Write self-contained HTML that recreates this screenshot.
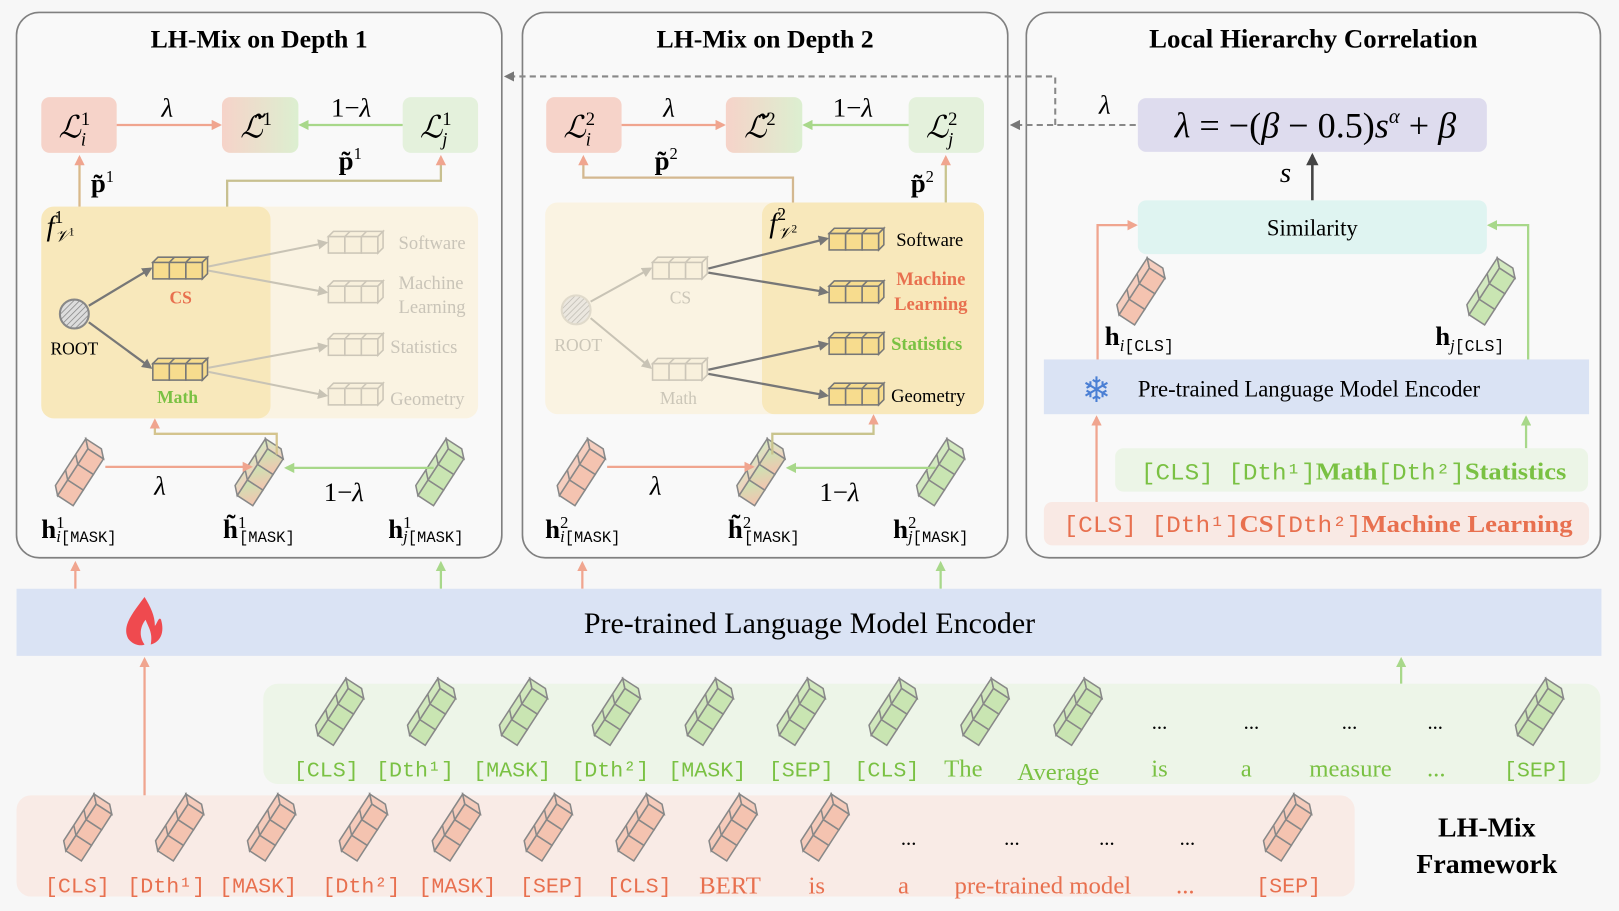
<!DOCTYPE html>
<html><head><meta charset="utf-8"><style>
html,body{margin:0;padding:0;background:#f7f7f7;}
svg{display:block;}
.s{font-family:"Liberation Serif",serif;}
.m{font-family:"Liberation Mono",monospace;}
</style></head><body>
<svg width="1619" height="911" viewBox="0 0 1568 882" preserveAspectRatio="none" xmlns="http://www.w3.org/2000/svg">
<defs>
<g id="tk" transform="rotate(-57) translate(-27,-9)">
<rect x="0" y="0" width="18" height="18"/><rect x="18" y="0" width="18" height="18"/><rect x="36" y="0" width="18" height="18"/>
<path d="M0 0 L7 -7 L61 -7 L54 0 Z" fill-opacity=".8"/>
<path d="M54 0 L61 -7 L61 11 L54 18 Z" fill-opacity=".8"/>
<line x1="18" y1="0" x2="25" y2="-7"/><line x1="36" y1="0" x2="43" y2="-7"/>
</g>
<g id="hb">
<rect x="0" y="0" width="16" height="16"/><rect x="16" y="0" width="16" height="16"/><rect x="32" y="0" width="16" height="16"/>
<path d="M0 0 L5 -5 L53 -5 L48 0 Z"/><path d="M48 0 L53 -5 L53 11 L48 16 Z"/>
<line x1="16" y1="0" x2="21" y2="-5"/><line x1="32" y1="0" x2="37" y2="-5"/>
</g>
<marker id="aS" markerWidth="10" markerHeight="10" refX="8" refY="5" orient="auto" markerUnits="userSpaceOnUse"><path d="M0 0 L10 5 L0 10 Z" fill="#f0a58f"/></marker>
<marker id="aG" markerWidth="10" markerHeight="10" refX="8" refY="5" orient="auto" markerUnits="userSpaceOnUse"><path d="M0 0 L10 5 L0 10 Z" fill="#a8d88a"/></marker>
<marker id="aD" markerWidth="10" markerHeight="10" refX="8" refY="5" orient="auto" markerUnits="userSpaceOnUse"><path d="M0 0 L10 5 L0 10 Z" fill="#777"/></marker>
<marker id="aF" markerWidth="10" markerHeight="10" refX="8" refY="5" orient="auto" markerUnits="userSpaceOnUse"><path d="M0 0 L10 5 L0 10 Z" fill="#c8c3b5"/></marker>
<marker id="aK" markerWidth="12" markerHeight="12" refX="10" refY="6" orient="auto" markerUnits="userSpaceOnUse"><path d="M0 0 L12 6 L0 12 Z" fill="#444"/></marker>
<linearGradient id="lg" x1="0" x2="1"><stop offset="0" stop-color="#f6d3c9"/><stop offset="1" stop-color="#dcefd0"/></linearGradient>
<linearGradient id="tg" x1="0" x2="1" y1="1" y2="0"><stop offset="0" stop-color="#f4c3b0"/><stop offset="1" stop-color="#c9e5b2"/></linearGradient>
<pattern id="hatch" width="4" height="4" patternUnits="userSpaceOnUse" patternTransform="rotate(45)"><rect width="4" height="4" fill="#ddd"/><line x1="0" y1="0" x2="0" y2="4" stroke="#888" stroke-width="1.5"/></pattern>
</defs>
<rect width="1568" height="882" fill="#f7f7f7"/>

<rect x="16" y="12" width="470" height="528" rx="22" fill="#f9f9f9" stroke="#808080" stroke-width="1.6"/>
<rect x="506" y="12" width="470" height="528" rx="22" fill="#f9f9f9" stroke="#808080" stroke-width="1.6"/>
<rect x="994" y="12" width="556" height="528" rx="22" fill="#f9f9f9" stroke="#808080" stroke-width="1.6"/>
<g class="s" font-weight="bold" font-size="25" text-anchor="middle">
<text x="251" y="46">LH-Mix on Depth 1</text><text x="741" y="46">LH-Mix on Depth 2</text><text x="1272" y="46" font-size="26">Local Hierarchy Correlation</text>
</g>

<!-- Box1 -->
<rect x="40" y="200" width="423" height="205" rx="12" fill="#faf3e2"/>
<rect x="40" y="200" width="222" height="205" rx="12" fill="#f8e8bb"/>
<rect x="40" y="94" width="73" height="54" rx="8" fill="#f6d3c9"/>
<rect x="215" y="94" width="74" height="54" rx="8" fill="url(#lg)"/>
<rect x="390" y="94" width="73" height="54" rx="8" fill="#e4f1dc"/>
<g class="s" font-style="italic" font-size="30" text-anchor="middle">
<text x="72" y="133">ℒ<tspan font-size="18" dy="-12" font-style="normal">1</tspan><tspan font-size="18" dx="-9" dy="20">i</tspan></text>
<text x="248" y="133">ℒ̃<tspan font-size="18" dy="-12" font-style="normal">1</tspan></text>
<text x="422" y="133">ℒ<tspan font-size="18" dy="-12" font-style="normal">1</tspan><tspan font-size="18" dx="-9" dy="20">j</tspan></text>
</g>
<line x1="113" y1="121" x2="213" y2="121" stroke="#f0a58f" stroke-width="2.2" marker-end="url(#aS)"/>
<line x1="390" y1="121" x2="291" y2="121" stroke="#a8d88a" stroke-width="2.2" marker-end="url(#aG)"/>
<g class="s" font-size="26" text-anchor="middle"><text x="162" y="113" font-style="italic">λ</text><text x="340" y="113">1−<tspan font-style="italic">λ</tspan></text></g>
<line x1="77" y1="200" x2="77" y2="152" stroke="#d9b98a" stroke-width="2.2" marker-end="url(#aS)"/>
<polyline points="220,200 220,175 427,175 427,152" fill="none" stroke="#c8c090" stroke-width="2.2" marker-end="url(#aS)"/>
<g class="s" font-size="26" font-weight="bold"><text x="88" y="186">p̃<tspan font-size="16" dy="-10" font-weight="normal">1</tspan></text><text x="328" y="164">p̃<tspan font-size="16" dy="-10" font-weight="normal">1</tspan></text></g>
<text x="45" y="228" class="s" font-size="28" font-style="italic">f<tspan font-size="17" dy="-12" font-style="normal">1</tspan><tspan font-size="16" dx="-8" dy="18">𝒱</tspan><tspan font-size="11" dy="-6" font-style="normal">1</tspan></text>
<circle cx="72" cy="304" r="14" fill="url(#hatch)" stroke="#888" stroke-width="2"/>
<text x="72" y="343" class="s" font-size="17" text-anchor="middle">ROOT</text>
<line x1="86" y1="296" x2="146" y2="260" stroke="#777" stroke-width="2.2" marker-end="url(#aD)"/>
<line x1="86" y1="312" x2="146" y2="356" stroke="#777" stroke-width="2.2" marker-end="url(#aD)"/>
<use href="#hb" x="148" y="254" fill="#f7dc8e" stroke="#777" stroke-width="1.5"/>
<use href="#hb" x="148" y="352" fill="#f7dc8e" stroke="#777" stroke-width="1.5"/>
<text x="175" y="294" class="s" font-size="17" font-weight="bold" fill="#e8704f" text-anchor="middle">CS</text>
<text x="172" y="390" class="s" font-size="17" font-weight="bold" fill="#7ac143" text-anchor="middle">Math</text>
<g stroke="#c8c3b5" stroke-width="2">
<line x1="202" y1="258" x2="316" y2="235" marker-end="url(#aF)"/><line x1="202" y1="262" x2="316" y2="283" marker-end="url(#aF)"/>
<line x1="202" y1="356" x2="316" y2="335" marker-end="url(#aF)"/><line x1="202" y1="360" x2="316" y2="383" marker-end="url(#aF)"/>
</g>
<g fill="#f8f0dc" stroke="#ccc6b8" stroke-width="1.5"><use href="#hb" x="318" y="229"/><use href="#hb" x="318" y="277"/><use href="#hb" x="318" y="328"/><use href="#hb" x="318" y="376"/></g>
<g class="s" font-size="18" fill="#c9c4b8"><text x="386" y="241">Software</text><text x="386" y="280">Machine</text><text x="386" y="303">Learning</text><text x="378" y="342">Statistics</text><text x="378" y="392">Geometry</text></g>
<use href="#tk" transform="translate(78,462)" fill="#f4c3b0" stroke="#888" stroke-width="1.5"/>
<use href="#tk" transform="translate(252,462)" fill="url(#tg)" stroke="#888" stroke-width="1.5"/>
<use href="#tk" transform="translate(427,462)" fill="#c9e5b2" stroke="#888" stroke-width="1.5"/>
<line x1="102" y1="452" x2="243" y2="452" stroke="#f0a58f" stroke-width="2.2" marker-end="url(#aS)"/>
<line x1="420" y1="453" x2="277" y2="453" stroke="#a8d88a" stroke-width="2.2" marker-end="url(#aG)"/>
<polyline points="268,440 268,420 150,420 150,407" fill="none" stroke="#d4c48e" stroke-width="2.2" marker-end="url(#aS)"/>
<g class="s" font-size="26" text-anchor="middle"><text x="155" y="479" font-style="italic">λ</text><text x="333" y="485">1−<tspan font-style="italic">λ</tspan></text></g>
<g class="s" font-size="26" font-weight="bold">
<text x="40" y="521">h<tspan font-size="16" dy="-10" font-weight="normal">1</tspan><tspan font-size="16" dx="-8" dy="14" font-style="italic" font-weight="normal">i</tspan><tspan class="m" font-size="15" font-weight="normal">[MASK]</tspan></text>
<text x="216" y="521">h̃<tspan font-size="16" dy="-10" font-weight="normal">1</tspan><tspan class="m" font-size="15" dx="-7" dy="14" font-weight="normal">[MASK]</tspan></text>
<text x="376" y="521">h<tspan font-size="16" dy="-10" font-weight="normal">1</tspan><tspan font-size="16" dx="-8" dy="14" font-style="italic" font-weight="normal">j</tspan><tspan class="m" font-size="15" font-weight="normal">[MASK]</tspan></text>
</g>

<!-- Box2 -->
<rect x="528" y="196" width="425" height="205" rx="12" fill="#faf3e2"/>
<rect x="738" y="196" width="215" height="205" rx="12" fill="#f8e8bb"/>
<rect x="529" y="94" width="73" height="54" rx="8" fill="#f6d3c9"/>
<rect x="703" y="94" width="74" height="54" rx="8" fill="url(#lg)"/>
<rect x="880" y="94" width="73" height="54" rx="8" fill="#e4f1dc"/>
<g class="s" font-style="italic" font-size="30" text-anchor="middle">
<text x="561" y="133">ℒ<tspan font-size="18" dy="-12" font-style="normal">2</tspan><tspan font-size="18" dx="-9" dy="20">i</tspan></text>
<text x="736" y="133">ℒ̃<tspan font-size="18" dy="-12" font-style="normal">2</tspan></text>
<text x="912" y="133">ℒ<tspan font-size="18" dy="-12" font-style="normal">2</tspan><tspan font-size="18" dx="-9" dy="20">j</tspan></text>
</g>
<line x1="602" y1="121" x2="701" y2="121" stroke="#f0a58f" stroke-width="2.2" marker-end="url(#aS)"/>
<line x1="880" y1="121" x2="779" y2="121" stroke="#a8d88a" stroke-width="2.2" marker-end="url(#aG)"/>
<g class="s" font-size="26" text-anchor="middle"><text x="648" y="113" font-style="italic">λ</text><text x="826" y="113">1−<tspan font-style="italic">λ</tspan></text></g>
<polyline points="768,196 768,172 565,172 565,152" fill="none" stroke="#d4b890" stroke-width="2.2" marker-end="url(#aS)"/>
<line x1="916" y1="196" x2="916" y2="152" stroke="#c9c48e" stroke-width="2.2" marker-end="url(#aS)"/>
<g class="s" font-size="26" font-weight="bold"><text x="634" y="164">p̃<tspan font-size="16" dy="-10" font-weight="normal">2</tspan></text><text x="882" y="186">p̃<tspan font-size="16" dy="-10" font-weight="normal">2</tspan></text></g>
<text x="745" y="225" class="s" font-size="28" font-style="italic">f<tspan font-size="17" dy="-12" font-style="normal">2</tspan><tspan font-size="16" dx="-8" dy="18">𝒱</tspan><tspan font-size="11" dy="-6" font-style="normal">2</tspan></text>
<circle cx="558" cy="300" r="14" fill="url(#hatch)" stroke="#c8c3b5" stroke-width="2" opacity=".5"/>
<text x="560" y="340" class="s" font-size="17" text-anchor="middle" fill="#cbc6b8">ROOT</text>
<line x1="572" y1="292" x2="630" y2="260" stroke="#c8c3b5" stroke-width="2" marker-end="url(#aF)"/>
<line x1="572" y1="308" x2="630" y2="356" stroke="#c8c3b5" stroke-width="2" marker-end="url(#aF)"/>
<g fill="#f8f0dc" stroke="#ccc6b8" stroke-width="1.5"><use href="#hb" x="632" y="254"/><use href="#hb" x="632" y="352"/></g>
<text x="659" y="294" class="s" font-size="17" text-anchor="middle" fill="#cbc6b8">CS</text>
<text x="657" y="391" class="s" font-size="17" text-anchor="middle" fill="#cbc6b8">Math</text>
<g stroke="#777" stroke-width="2.2">
<line x1="686" y1="260" x2="801" y2="231" marker-end="url(#aD)"/><line x1="686" y1="264" x2="801" y2="283" marker-end="url(#aD)"/>
<line x1="686" y1="358" x2="801" y2="333" marker-end="url(#aD)"/><line x1="686" y1="362" x2="801" y2="383" marker-end="url(#aD)"/>
</g>
<g fill="#f7dc8e" stroke="#777" stroke-width="1.5"><use href="#hb" x="803" y="226"/><use href="#hb" x="803" y="277"/><use href="#hb" x="803" y="327"/><use href="#hb" x="803" y="376"/></g>
<g class="s" font-size="18"><text x="868" y="238">Software</text><text x="868" y="276" font-weight="bold" fill="#e8704f">Machine</text><text x="866" y="300" font-weight="bold" fill="#e8704f">Learning</text><text x="863" y="339" font-weight="bold" fill="#7ac143">Statistics</text><text x="863" y="389">Geometry</text></g>
<use href="#tk" transform="translate(564,462)" fill="#f4c3b0" stroke="#888" stroke-width="1.5"/>
<use href="#tk" transform="translate(738,462)" fill="url(#tg)" stroke="#888" stroke-width="1.5"/>
<use href="#tk" transform="translate(912,462)" fill="#c9e5b2" stroke="#888" stroke-width="1.5"/>
<line x1="588" y1="452" x2="729" y2="452" stroke="#f0a58f" stroke-width="2.2" marker-end="url(#aS)"/>
<line x1="906" y1="453" x2="763" y2="453" stroke="#a8d88a" stroke-width="2.2" marker-end="url(#aG)"/>
<polyline points="748,440 748,420 846,420 846,403" fill="none" stroke="#c9c48e" stroke-width="2.2" marker-end="url(#aS)"/>
<g class="s" font-size="26" text-anchor="middle"><text x="635" y="479" font-style="italic">λ</text><text x="813" y="485">1−<tspan font-style="italic">λ</tspan></text></g>
<g class="s" font-size="26" font-weight="bold">
<text x="528" y="521">h<tspan font-size="16" dy="-10" font-weight="normal">2</tspan><tspan font-size="16" dx="-8" dy="14" font-style="italic" font-weight="normal">i</tspan><tspan class="m" font-size="15" font-weight="normal">[MASK]</tspan></text>
<text x="705" y="521">h̃<tspan font-size="16" dy="-10" font-weight="normal">2</tspan><tspan class="m" font-size="15" dx="-7" dy="14" font-weight="normal">[MASK]</tspan></text>
<text x="865" y="521">h<tspan font-size="16" dy="-10" font-weight="normal">2</tspan><tspan font-size="16" dx="-8" dy="14" font-style="italic" font-weight="normal">j</tspan><tspan class="m" font-size="15" font-weight="normal">[MASK]</tspan></text>
</g>

<g stroke="#888" stroke-width="2" stroke-dasharray="6,4" fill="none">
<line x1="1100" y1="121" x2="980" y2="121" marker-end="url(#aD)"/>
<polyline points="1022,121 1022,74 490,74" marker-end="url(#aD)"/>
</g>
<text x="1070" y="110" class="s" font-size="26" font-style="italic" text-anchor="middle">λ</text>

<!-- Box3 -->
<rect x="1102" y="95" width="338" height="52" rx="8" fill="#dedcee"/>
<text x="1274" y="133" class="s" font-size="35" text-anchor="middle"><tspan font-style="italic">λ</tspan> = −(<tspan font-style="italic">β</tspan> − 0.5)<tspan font-style="italic">s</tspan><tspan font-size="20" dy="-14" font-style="italic">α</tspan><tspan dy="14"> + </tspan><tspan font-style="italic">β</tspan></text>
<line x1="1271" y1="194" x2="1271" y2="150" stroke="#444" stroke-width="2.5" marker-end="url(#aK)"/>
<text x="1245" y="176" class="s" font-size="28" font-style="italic" text-anchor="middle">s</text>
<rect x="1102" y="194" width="338" height="52" rx="8" fill="#dff4f1"/>
<text x="1271" y="228" class="s" font-size="22" text-anchor="middle">Similarity</text>
<polyline points="1063,348 1063,218 1100,218" fill="none" stroke="#f0a58f" stroke-width="2.2" marker-end="url(#aS)"/>
<polyline points="1480,348 1480,218 1442,218" fill="none" stroke="#a8d88a" stroke-width="2.2" marker-end="url(#aG)"/>
<use href="#tk" transform="translate(1106,287)" fill="#f4c3b0" stroke="#888" stroke-width="1.5"/>
<use href="#tk" transform="translate(1445,287)" fill="#c9e5b2" stroke="#888" stroke-width="1.5"/>
<g class="s" font-size="26" font-weight="bold">
<text x="1070" y="334">h<tspan font-size="16" dy="6" font-style="italic" font-weight="normal">i</tspan><tspan class="m" font-size="16" font-weight="normal">[CLS]</tspan></text>
<text x="1390" y="334">h<tspan font-size="16" dy="6" font-style="italic" font-weight="normal">j</tspan><tspan class="m" font-size="16" font-weight="normal">[CLS]</tspan></text>
</g>
<rect x="1011" y="348" width="528" height="53" fill="#dae3f4"/>
<text x="1062" y="389" font-family="DejaVu Sans,sans-serif" font-size="34" fill="#4a7fd4" text-anchor="middle">❄</text>
<text x="1102" y="384" class="s" font-size="22">Pre-trained Language Model Encoder</text>
<line x1="1062" y1="486" x2="1062" y2="404" stroke="#f0a58f" stroke-width="2.2" marker-end="url(#aS)"/>
<line x1="1478" y1="434" x2="1478" y2="404" stroke="#a8d88a" stroke-width="2.2" marker-end="url(#aG)"/>
<rect x="1080" y="434" width="458" height="42" rx="8" fill="#ecf5e7"/>
<text x="1105" y="464" font-size="22" fill="#7ac143" xml:space="preserve" textLength="412" lengthAdjust="spacingAndGlyphs"><tspan class="m">[CLS] [Dth¹]</tspan><tspan class="s" font-weight="bold" font-size="24">Math</tspan><tspan class="m">[Dth²]</tspan><tspan class="s" font-weight="bold" font-size="24">Statistics</tspan></text>
<rect x="1011" y="486" width="528" height="42" rx="8" fill="#f9e9e4"/>
<text x="1030" y="515" font-size="22" fill="#e8704f" xml:space="preserve" textLength="493" lengthAdjust="spacingAndGlyphs"><tspan class="m">[CLS] [Dth¹]</tspan><tspan class="s" font-weight="bold" font-size="24">CS</tspan><tspan class="m">[Dth²]</tspan><tspan class="s" font-weight="bold" font-size="24">Machine Learning</tspan></text>

<g stroke-width="2.2">
<line x1="73" y1="570" x2="73" y2="545" stroke="#f0a58f" marker-end="url(#aS)"/>
<line x1="427" y1="570" x2="427" y2="545" stroke="#a8d88a" marker-end="url(#aG)"/>
<line x1="564" y1="570" x2="564" y2="545" stroke="#f0a58f" marker-end="url(#aS)"/>
<line x1="911" y1="570" x2="911" y2="545" stroke="#a8d88a" marker-end="url(#aG)"/>
</g>
<rect x="16" y="570" width="1535" height="65" fill="#dae3f4"/>
<path d="M140 578 C128 594 118 606 124 618 C128 624 136 626 140 624 C134 616 136 606 141 600 C144 608 148 612 146 624 C154 622 160 614 156 600 C154 596 152 604 150 606 C150 596 146 588 140 578 Z" fill="#ef4a4f"/>
<text x="784" y="613" class="s" font-size="29" text-anchor="middle">Pre-trained Language Model Encoder</text>
<line x1="140" y1="770" x2="140" y2="638" stroke="#f0a58f" stroke-width="2.2" marker-end="url(#aS)"/>
<line x1="1357" y1="662" x2="1357" y2="638" stroke="#a8d88a" stroke-width="2.2" marker-end="url(#aG)"/>

<rect x="255" y="662" width="1295" height="97" rx="14" fill="#edf5e8"/>
<g fill="#c9e5b2" stroke="#888" stroke-width="1.5">
<use href="#tk" transform="translate(330,694)"/><use href="#tk" transform="translate(419,694)"/><use href="#tk" transform="translate(508,694)"/><use href="#tk" transform="translate(598,694)"/><use href="#tk" transform="translate(688,694)"/><use href="#tk" transform="translate(777,694)"/><use href="#tk" transform="translate(866,694)"/><use href="#tk" transform="translate(955,694)"/><use href="#tk" transform="translate(1045,694)"/><use href="#tk" transform="translate(1492,694)"/>
</g>
<g class="s" font-size="20" text-anchor="middle"><text x="1123" y="706">...</text><text x="1212" y="706">...</text><text x="1307" y="706">...</text><text x="1390" y="706">...</text></g>
<g fill="#7ac143" text-anchor="middle" font-size="21">
<g class="m"><text x="316" y="752">[CLS]</text><text x="402" y="752">[Dth¹]</text><text x="496" y="752">[MASK]</text><text x="591" y="752">[Dth²]</text><text x="685" y="752">[MASK]</text><text x="776" y="752">[SEP]</text><text x="859" y="752">[CLS]</text><text x="1488" y="752">[SEP]</text></g>
<g class="s" font-size="24"><text x="933" y="752">The</text><text x="1025" y="755">Average</text><text x="1123" y="752">is</text><text x="1207" y="752">a</text><text x="1308" y="752">measure</text><text x="1391" y="752">...</text></g>
</g>

<rect x="16" y="770" width="1296" height="98" rx="14" fill="#f9ebe6"/>
<g fill="#f4c3b0" stroke="#888" stroke-width="1.5">
<use href="#tk" transform="translate(86,806)"/><use href="#tk" transform="translate(175,806)"/><use href="#tk" transform="translate(264,806)"/><use href="#tk" transform="translate(353,806)"/><use href="#tk" transform="translate(443,806)"/><use href="#tk" transform="translate(532,806)"/><use href="#tk" transform="translate(621,806)"/><use href="#tk" transform="translate(711,806)"/><use href="#tk" transform="translate(800,806)"/><use href="#tk" transform="translate(1248,806)"/>
</g>
<g class="s" font-size="20" text-anchor="middle"><text x="880" y="818">...</text><text x="980" y="818">...</text><text x="1072" y="818">...</text><text x="1150" y="818">...</text></g>
<g fill="#e8704f" text-anchor="middle" font-size="21">
<g class="m"><text x="75" y="864">[CLS]</text><text x="161" y="864">[Dth¹]</text><text x="250" y="864">[MASK]</text><text x="350" y="864">[Dth²]</text><text x="443" y="864">[MASK]</text><text x="535" y="864">[SEP]</text><text x="619" y="864">[CLS]</text><text x="1248" y="864">[SEP]</text></g>
<g class="s" font-size="24"><text x="707" y="865">BERT</text><text x="791" y="865">is</text><text x="875" y="865">a</text><text x="1010" y="865">pre-trained model</text><text x="1148" y="865">...</text></g>
</g>
<g class="s" font-size="27" font-weight="bold" text-anchor="middle"><text x="1440" y="810">LH-Mix</text><text x="1440" y="845">Framework</text></g>
</svg>
</body></html>
